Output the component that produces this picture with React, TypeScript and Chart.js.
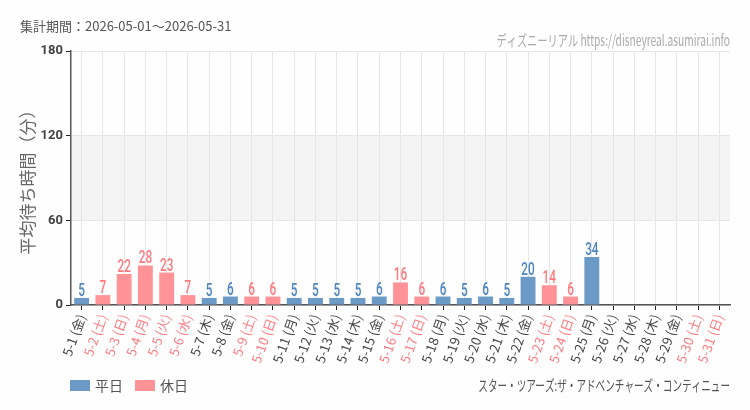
import { useEffect, useRef } from 'react';
import { Chart, registerables } from 'chart.js';

Chart.register(...registerables);

// 5月の日付ラベル
const dates = [
    '5-1 (金)', '5-2 (土)', '5-3 (日)', '5-4 (月)', '5-5 (火)', '5-6 (水)', '5-7 (木)', '5-8 (金)',
    '5-9 (土)', '5-10 (日)', '5-11 (月)', '5-12 (火)', '5-13 (水)', '5-14 (木)', '5-15 (金)', '5-16 (土)',
    '5-17 (日)', '5-18 (月)', '5-19 (火)', '5-20 (水)', '5-21 (木)', '5-22 (金)', '5-23 (土)', '5-24 (日)',
    '5-25 (月)', '5-26 (火)', '5-27 (水)', '5-28 (木)', '5-29 (金)', '5-30 (土)', '5-31 (日)'
];
const holidays = [
    false, true, true, true, true, true, false, false, true, true, false, false, false, false, false, true,
    true, false, false, false, false, false, true, true, false, false, false, false, false, true, true
];
// 平均待ち時間（分）
const waits: (number | null)[] = [
    5, 7, 22, 28, 23, 7, 5, 6, 6, 6, 5, 5, 5, 5, 6, 16,
    6, 6, 5, 6, 5, 20, 14, 6, 34, null, null, null, null, null, null
];
const yTicks = [0, 60, 120, 180];
const seriesNames = ['平日', '休日'];

const BLUE = '#6c9ac6';
const PINK = '#ff9398';
const BLUE_TXT = '#4f86c0';
const PINK_TXT = '#ff7a80';
const JP = "'Noto Sans CJK JP', 'Noto Sans', sans-serif";

const weekday = waits.map((v, i) => (holidays[i] ? null : v));
const holiday = waits.map((v, i) => (holidays[i] ? v : null));

// 横に詰めた文字（細字フォントの代わり）
function narrowText(ctx: CanvasRenderingContext2D, text: string, x: number, y: number, sx: number) {
    ctx.save();
    ctx.translate(x, y);
    ctx.scale(sx, 1);
    ctx.fillText(text, 0, 0);
    ctx.restore();
}

const decor = {
    id: 'decor',
    beforeDraw(chart: Chart) {
        const { ctx, chartArea: a } = chart;
        const y = chart.scales.y;
        ctx.save();
        ctx.fillStyle = '#f4f4f4';
        const t = y.getPixelForValue(120);
        const b = y.getPixelForValue(60);
        ctx.fillRect(a.left, t, a.right - a.left, b - t);
        ctx.restore();
    },
    afterDatasetsDraw(chart: Chart) {
        const { ctx, chartArea: a } = chart;
        ctx.save();
        // 値ラベル
        ctx.font = `500 19px Roboto, sans-serif`;
        ctx.textAlign = 'center';
        ctx.textBaseline = 'alphabetic';
        chart.data.datasets.forEach((ds, di) => {
            const meta = chart.getDatasetMeta(di);
            ctx.fillStyle = di === 0 ? BLUE_TXT : PINK_TXT;
            meta.data.forEach((el: any, i) => {
                const v = ds.data[i] as number | null;
                if (v == null) return;
                narrowText(ctx, String(v), el.x, el.y - 2, 0.62);
            });
        });

        // 見出し
        ctx.textBaseline = 'middle';
        ctx.textAlign = 'left';
        ctx.fillStyle = '#555';
        ctx.font = `13px ${JP}`;
        ctx.fillText('集計期間：2026-05-01～2026-05-31', 20, 26);

        ctx.textAlign = 'right';
        ctx.fillStyle = '#aaa';
        ctx.font = `15px ${JP}`;
        narrowText(ctx, 'ディズニーリアル https://disneyreal.asumirai.info', a.right, 40, 0.68);

        ctx.fillStyle = '#555';
        narrowText(ctx, 'スター・ツアーズ:ザ・アドベンチャーズ・コンティニュー', a.right, 385, 0.64);

        // 凡例
        ctx.textAlign = 'left';
        ctx.font = `14px ${JP}`;
        let x = 70;
        seriesNames.forEach((name, i) => {
            ctx.fillStyle = i === 0 ? BLUE : PINK;
            ctx.fillRect(x, 380, 20, 11);
            ctx.fillStyle = '#555';
            ctx.fillText(name, x + 25, 386);
            x += 65;
        });

        // 縦軸タイトル
        ctx.translate(28, (a.top + a.bottom) / 2);
        ctx.rotate(-Math.PI / 2);
        ctx.textAlign = 'center';
        ctx.fillStyle = '#666';
        ctx.font = `17px ${JP}`;
        ctx.fillText('平均待ち時間（分）', 0, 0);
        ctx.restore();
    }
};

export default function App() {
    const canvasRef = useRef<HTMLCanvasElement | null>(null);

    useEffect(() => {
        document.body.style.margin = '0';
        document.body.style.background = '#fdfefd';
        if (!canvasRef.current) return;
        const chart = new Chart(canvasRef.current, {
            type: 'bar',
            data: {
                labels: dates,
                datasets: [
                    { label: seriesNames[0], data: weekday, backgroundColor: BLUE, barPercentage: 0.7, categoryPercentage: 1 },
                    { label: seriesNames[1], data: holiday, backgroundColor: PINK, barPercentage: 0.7, categoryPercentage: 1 }
                ]
            },
            options: {
                responsive: false,
                animation: false,
                layout: { padding: { left: 0, top: 51, right: 20, bottom: 0 } },
                plugins: { legend: { display: false }, tooltip: { enabled: false } },
                scales: {
                    x: {
                        stacked: true,
                        afterFit: (s: any) => { s.height = 105; },
                        grid: { offset: false, color: '#e6e6e6', tickColor: '#222', tickLength: 5 },
                        border: { color: '#555', width: 1.5 },
                        ticks: {
                            minRotation: 70,
                            maxRotation: 70,
                            autoSkip: false,
                            padding: 2,
                            font: { family: JP, size: 13 },
                            color: (c: any) => (holidays[c.index] ? PINK_TXT : '#444')
                        }
                    },
                    y: {
                        stacked: true,
                        min: 0,
                        max: 180,
                        afterFit: (s: any) => { s.width = 71; },
                        afterBuildTicks: (s: any) => { s.ticks = yTicks.map(v => ({ value: v })); },
                        grid: { color: '#e6e6e6', tickColor: '#222', tickLength: 5 },
                        border: { color: '#555', width: 1.5 },
                        ticks: { color: '#444', padding: 3, font: { family: 'Roboto, sans-serif', size: 13, weight: 'bold' } }
                    }
                }
            },
            plugins: [decor]
        });
        return () => chart.destroy();
    }, []);

    return <canvas ref={canvasRef} width={750} height={410} />;
}
